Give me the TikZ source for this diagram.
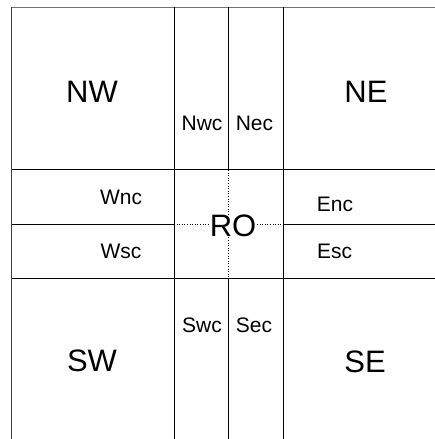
\documentclass[tikz,border=0pt]{standalone}
\usepackage{fontspec}
\setmainfont{Liberation Sans}

\tikzset{every picture/.style={line width=1bp}}
\tikzset{
  bigzone/.style={inner sep=0.75pt,font=\fontsize{31bp}{36bp}\selectfont},
  smallzone/.style={inner sep=0.75pt,font=\fontsize{21bp}{25bp}\selectfont},
  gridline/.style={draw=black},
  splitline/.style={draw=black,dotted,line width=0.6bp}
}

\begin{document}
\begin{tikzpicture}[x=1bp,y=1bp,yscale=-1,xscale=1]
\useasboundingbox (0,0) rectangle (435,439);

%Shape: Frame [id:top]
\draw [draw=black!55,line width=1.3bp] (12,7.5) -- (435,7.5) ;
%Shape: Frame [id:left]
\draw [draw=black!75,line width=1.3bp] (11.5,7.5) -- (11.5,439) ;

%Shape: Lines [id:columns]
\draw [gridline] (174,7.5) -- (174,439) ;
\draw [gridline] (283,7.5) -- (283,439) ;
\draw [gridline] (228.5,7.5) -- (228.5,170) ;
\draw [gridline] (228.5,278) -- (228.5,439) ;
\draw [splitline] (228.5,170) -- (228.5,278) ;

%Shape: Lines [id:rows]
\draw [gridline] (11.5,170) -- (435,170) ;
\draw [gridline] (11.5,278) -- (435,278) ;
\draw [gridline] (11.5,224.5) -- (174,224.5) ;
\draw [gridline] (283,224.5) -- (435,224.5) ;
\draw [splitline] (174,224.5) -- (283,224.5) ;

% Text Node
\node [bigzone] (nw) at (92,92) {NW};
% Text Node
\node [bigzone] (ne) at (366,92) {NE};
% Text Node
\node [bigzone] (sw) at (92,361) {SW};
% Text Node
\node [bigzone] (se) at (365,362) {SE};
% Text Node
\node [bigzone,fill=white,inner sep=0pt] (ro) at (233,226) {RO};

% Text Node
\node [smallzone] (nwc) at (202,123) {Nwc};
% Text Node
\node [smallzone] (nec) at (254.5,123) {Nec};
% Text Node
\node [smallzone] (swc) at (202,325) {Swc};
% Text Node
\node [smallzone] (sec) at (254,325) {Sec};
% Text Node
\node [smallzone] (wnc) at (121,197) {Wnc};
% Text Node
\node [smallzone] (wsc) at (121,251) {Wsc};
% Text Node
\node [smallzone] (enc) at (335,204) {Enc};
% Text Node
\node [smallzone] (esc) at (334.5,251) {Esc};

\end{tikzpicture}
\end{document}
